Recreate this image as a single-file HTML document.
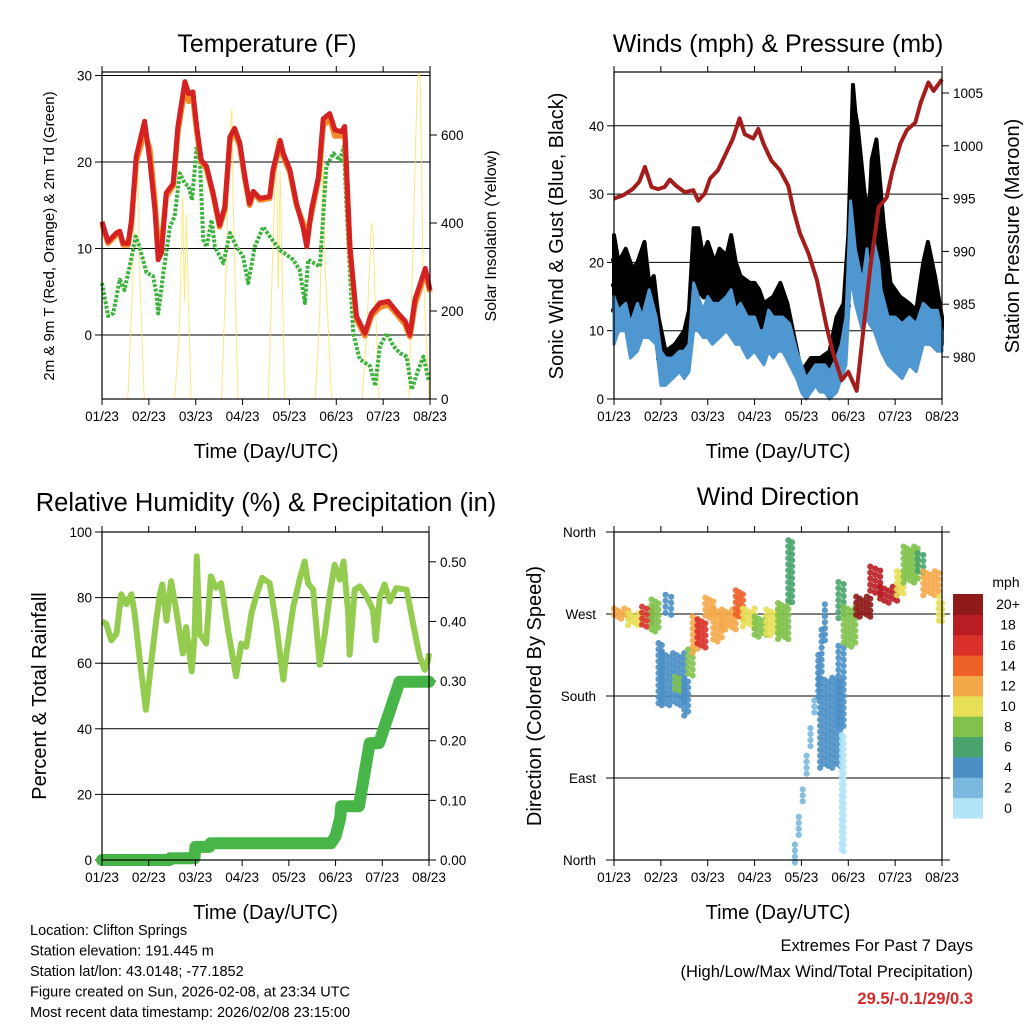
<!DOCTYPE html>
<html><head><meta charset="utf-8"><style>
body{margin:0;background:#fff;}
svg{display:block;font-family:"Liberation Sans",sans-serif;}
</style></head><body>
<svg id="c" width="1024" height="1024" viewBox="0 0 1024 1024" xmlns="http://www.w3.org/2000/svg"></svg>
<script>
// ---------- DATA ----------
const xTickLabels=["01/23","02/23","03/23","04/23","05/23","06/23","07/23","08/23"];
// Temperature panel
const tTimes=[0,.13,.31,.38,.45,.56,.63,.73,.91,1.02,1.13,1.2,1.27,1.37,1.52,1.62,1.77,1.85,1.94,2.02,2.12,2.23,2.37,2.51,2.62,2.73,2.83,2.94,3.05,3.15,3.23,3.37,3.58,3.65,3.8,3.87,4.01,4.15,4.29,4.37,4.47,4.62,4.72,4.86,4.97,5.11,5.18,5.29,5.43,5.61,5.75,5.93,6.11,6.32,6.47,6.57,6.68,6.9,7];
const temp2m=[13.1,10.8,11.8,12,10.6,10.6,13.3,20.6,24.7,20.2,14.5,8.7,9.5,16.4,17.5,24.1,29.3,27.9,28.1,24.1,20.2,19.5,16.4,12.7,14.8,22.9,23.9,22.2,18.3,15.2,16.6,15.8,16,19.1,22.5,21,19.1,15.2,12.5,10.2,14.5,18.3,25,25.6,23.7,23.5,24.1,10.2,2.2,0.2,2.5,3.7,3.9,2.5,1.6,0,4.1,7.7,5.2];
const temp9m=[12.8,10.6,11.6,11.8,10.4,10.4,13,20,23.5,21.5,15.5,10,10.5,16,17.2,23.5,28.5,27,27.5,23.5,20,19.2,16.2,12.5,14.5,22.4,23.5,21.8,18,15,16.4,15.6,15.8,18.8,22,20.6,18.8,15,13,11.5,14,18,24.2,25,23,23,23.5,10,1.8,-0.1,2.2,3.2,3.5,2.2,1.2,-0.2,3.5,7.2,5];
const dewTimes=[0,.13,.24,.38,.48,.59,.72,.8,.95,1.09,1.16,1.2,1.3,1.45,1.55,1.66,1.77,1.85,1.92,2.02,2.09,2.16,2.23,2.34,2.41,2.59,2.73,2.87,3.01,3.12,3.26,3.44,3.58,3.8,4.08,4.22,4.33,4.4,4.65,4.79,4.94,5.08,5.16,5.22,5.36,5.5,5.72,5.83,5.93,6.08,6.22,6.36,6.5,6.61,6.75,6.86,6.97];
const dew2m=[6,2.2,2.5,6.4,5.2,7.9,11.4,10.2,7.2,6.8,4.8,2.5,6.8,12.5,13.7,18.7,17.5,17.2,15.6,21.8,20.2,11,10.2,13.3,10.2,8.3,11.8,10.2,9.1,6,10.2,12.5,11.4,9.8,8.7,7.5,3.7,8.7,7.9,19.5,21,20.2,21.8,14.5,0.2,-2.8,-3.6,-5.9,-1.3,0.2,-1.3,-2.1,-2.5,-6.3,-4,-2.5,-5.2];
const solarTimes=[0.55,.65,.72,.76,.8,.9, 1.55,1.65,1.72,1.76,1.8,1.9, 2.55,2.65,2.72,2.77,2.8,2.9, 3.55,3.65,3.72,3.76,3.8,3.9, 4.55,4.65,4.72,4.76,4.82,4.9, 5.55,5.65,5.75,5.79,5.82,5.92, 6.55,6.65,6.72,6.75,6.79,6.85,6.98];
const solarVals=[0,250,530,560,300,0, 0,150,460,220,420,0, 0,300,580,660,450,0, 0,350,600,250,520,0, 0,200,560,300,180,0, 0,150,400,370,250,0, 0,400,690,745,730,300,0];
// Winds panel
const presTimes=[0,.19,.4,.54,.66,.8,.94,1.08,1.19,1.33,1.51,1.69,1.8,1.94,2.05,2.22,2.37,2.54,2.68,2.79,2.97,3.08,3.19,3.36,3.54,3.72,3.83,3.97,4.15,4.33,4.54,4.68,4.86,5,5.18,5.29,5.47,5.65,5.82,5.93,6.11,6.25,6.43,6.54,6.71,6.82,7];
const presVals=[995,995.3,995.9,996.6,998,996.1,995.9,996.1,996.8,996.2,995.6,995.8,994.8,995.5,996.9,997.7,999.1,1000.7,1002.6,1001.1,1000.7,1001.6,1000.2,998.6,997.7,996.2,993.9,991.7,989.8,987.3,982.8,980.3,977.8,978.6,976.8,981.3,988.5,994.2,995.1,997.4,1000.2,1001.5,1002.2,1004,1006,1005.2,1006.3];
const windTimes=[0,.1,.25,.35,.5,.6,.75,.9,1.0,1.1,1.25,1.4,1.5,1.6,1.7,1.8,1.9,2.0,2.1,2.25,2.4,2.5,2.6,2.7,2.85,3.0,3.1,3.2,3.3,3.4,3.5,3.6,3.75,3.9,4.0,4.1,4.2,4.3,4.4,4.5,4.6,4.75,4.85,4.95,5.05,5.15,5.3,5.4,5.45,5.55,5.65,5.7,5.85,6.0,6.15,6.3,6.45,6.6,6.75,6.9,7.0];
const windLo=[8,10,10,6,7,9,9,8,2,2,3,4,3,4,10,10,9,9,8,9,10,9,8,8,6,7,6,5,7,6,7,7,5,3,1,0,1,2,1,1,0,1,3,5,18,14,10,12,11,10,8,7,5,4,3,5,4,8,8,7,7];
const windHi=[15,13,14,11,14,12,16,12,7,6,6,7,7,8,17,15,13,15,14,14,15,16,13,14,12,12,10,10,13,12,12,12,11,7,5,3,4,5,5,5,4,6,8,12,29,22,17,22,18,23,20,16,12,12,11,12,11,14,13,13,10];
const gustTimes=[0,.1,.25,.4,.5,.65,.75,.85,.95,1.1,1.3,1.5,1.6,1.7,1.8,1.9,2.0,2.15,2.25,2.4,2.5,2.6,2.7,2.9,3.0,3.1,3.2,3.4,3.55,3.7,3.85,4.0,4.2,4.4,4.6,4.75,4.9,5.0,5.1,5.15,5.2,5.35,5.45,5.5,5.6,5.75,5.9,6.1,6.3,6.45,6.6,6.7,6.85,7.0];
const gustLo=[13,14,13,12,11,14,13,11,6,4,5,5,8,15,16,15,15,14,14,15,15,13,12,10,10,11,9,10,9,8,5,3,3,4,3,5,8,14,25,28,22,16,18,16,17,12,9,8,9,9,11,12,10,8];
const gustHi=[24,20,22,19,20,23,17,18,12,7,8,10,13,25,25,21,23,20,22,21,24,20,18,17,17,16,14,15,17,14,9,4,6,6,7,12,14,24,46,42,40,30,28,35,38,26,17,15,14,13,20,23,18,12];
// Humidity / precip panel
const rhTimes=[0,.09,.2,.31,.41,.52,.63,.7,.81,.94,1.06,1.16,1.24,1.29,1.38,1.48,1.59,1.73,1.8,1.92,1.98,2.03,2.09,2.23,2.33,2.44,2.55,2.7,2.87,2.98,3.09,3.2,3.3,3.43,3.59,3.73,3.88,3.95,4.09,4.23,4.34,4.41,4.52,4.66,4.77,4.88,4.98,5.09,5.17,5.27,5.3,5.41,5.52,5.66,5.8,5.86,5.95,6.05,6.16,6.3,6.52,6.66,6.8,6.91,6.98,7];
const rhVals=[72.7,72,67,69,81,78,81,75,61,45.8,61,73,81,84,73,85,76,63,71,57.5,68,92.6,69,66,86.5,83,84.4,70,56,66,65,75.3,80.4,86,84.4,72,55,63,77,85.5,91,84.4,82.4,59.5,69,81.4,90,85.5,91,75.3,62.6,82.4,83.4,80.4,76.3,67,80.4,84,78.8,82.9,82.4,72,62,58,61,63];
const precipTimes=[0,1.45,1.46,1.98,2.0,2.3,2.32,4.9,5.0,5.1,5.12,5.5,5.73,5.93,6.37,7];
const precipVals=[0,0,0.003,0.003,0.022,0.022,0.028,0.028,0.04,0.07,0.09,0.09,0.196,0.196,0.299,0.299];
// Wind direction clusters
const wdDayStart=[0,.3,.6,.8,.95,1.1,1.02,1.3,1.5,1.58,1.68,1.78,1.95,2.12,2.3,2.6,2.75,3.0,3.25,3.5,3.72,3.86,4.36,4.4,4.79,4.79,4.86,4.9,5.17,5.47,5.68,6.04,6.18,6.48,6.6,6.93];
const wdDayEnd=[.3,.6,.8,.95,1.02,1.22,1.5,1.4,1.58,1.68,1.78,1.95,2.12,2.3,2.6,2.75,3.0,3.25,3.5,3.72,3.8,4.36,4.5,4.83,4.9,4.9,4.9,5.15,5.47,5.68,6.04,6.18,6.48,6.6,6.93,7.0];
const wdDirStart=[270,264,266,268,203,278,198,192,178,216,247,248,276,257,264,280,266,255,260,262,315,5,200,150,285,190,72,255,278,306,291,303,324,324,303,275];
const wdDirEnd=[270,264,266,268,203,278,198,192,178,216,247,248,276,257,264,280,266,255,260,262,315,200,260,150,285,190,72,255,278,306,291,303,324,324,303,270];
const wdSpread=[6,7,12,18,35,13,29,9,20,15,20,16,12,18,11,16,10,12,15,20,36,12,25,50,20,45,65,23,11,16,9,14,20,13,14,14];
const wdSpeed=[12,10,15,7,3,4,4,7,4,7,12,16,12,11,12,13,10,8,9,7,5,2,4,4,5,4,0.5,7,20,17,18,10,7,6,11,9];
const cbLabels=["0","2","4","6","8","10","12","14","16","18","20+"];
const cbColors=["#b3e3f7","#7ab8e0","#4a8fc6","#48a46c","#80c24c","#e7df58","#f5a84a","#ee6128","#d9312a","#b91d24","#8e1a1a"];

// ---------- HELPERS ----------
const NS="http://www.w3.org/2000/svg";
const S=document.getElementById("c");
function el(tag,a,p){const e=document.createElementNS(NS,tag);for(const k in a)e.setAttribute(k,a[k]);(p||S).appendChild(e);return e;}
function txt(x,y,s,size,anchor,extra){const e=el("text",Object.assign({x:x,y:y,"font-size":size,"text-anchor":anchor||"middle",fill:"#000"},extra||{}));e.textContent=s;return e;}
function xScale(x0,x1){return d=>x0+d/7*(x1-x0);}
function path(xs,ys,fx,fy){let s="";for(let i=0;i<Math.min(xs.length,ys.length);i++){s+=(i?"L":"M")+fx(xs[i]).toFixed(1)+","+fy(ys[i]).toFixed(1);}return s;}
function lerp(ts,vs,t){for(let i=1;i<ts.length;i++){if(t<=ts[i]){const f=(t-ts[i-1])/(ts[i]-ts[i-1]||1);return vs[i-1]+f*(vs[i]-vs[i-1]);}}return vs[vs.length-1];}
function xAxis(x0,x1,yb,yt,name){
  const fx=xScale(x0,x1);
  for(let i=0;i<xTickLabels.length;i++){
    const x=fx(i);
    el("line",{x1:x,x2:x,y1:yb,y2:yb+6,stroke:"#000","stroke-width":1});
    el("line",{x1:x,x2:x,y1:yt,y2:yt-6,stroke:"#000","stroke-width":1});
    const t=txt(x,yb+22,xTickLabels[i],13.5);
    
    
  }
  const a=txt((x0+x1)/2,yb+59,"Time (Day/UTC)",20);
  
  
}
function yTick(x,y,label,side,name){
  const d=side==="l"?-7:7;
  el("line",{x1:x,x2:x+d,y1:y,y2:y,stroke:"#000","stroke-width":1});
  const t=txt(x+(side==="l"?-10:11),y+5,label,13.5,side==="l"?"end":"start");
  
  
}
function grid(x0,x1,y){el("line",{x1:x0,x2:x1,y1:y,y2:y,stroke:"#000","stroke-width":1});}
function frame(x0,x1,yt,yb,name){const r=el("rect",{x:x0,y:yt,width:x1-x0,height:yb-yt,fill:"none",stroke:"#000","stroke-width":1.2});
  
  }
function vtitle(x,y,s,size,name){const t=txt(x,y,s,size,"middle",{transform:`rotate(-90 ${x} ${y})`});
  
  }

// ---------- PANEL 1: TEMPERATURE ----------
(function(){
  const x0=102,x1=430,yt=72,yb=399;
  const fx=xScale(x0,x1), fy=v=>335-v*8.65, sy=v=>399-v*0.44;
  const ti=txt(267,52,"Temperature (F)",25);
  
  
  [0,10,20,30].forEach(v=>{grid(x0,x1,fy(v));yTick(x0,fy(v),String(v),"l","temp-y-tick-label");});
  [0,200,400,600].forEach(v=>yTick(x1,sy(v),String(v),"r","solar-y-tick-label"));
  const sol=el("path",{d:path(solarTimes,solarVals,fx,sy),fill:"none",stroke:"#ffe060","stroke-width":1,opacity:0.8});
  
  
  const dw=el("path",{d:path(dewTimes,dew2m,fx,fy),fill:"none",stroke:"#3db33d","stroke-width":4,"stroke-dasharray":"3 1.6","stroke-linejoin":"round"});
  
  
  const o=el("path",{d:path(tTimes,temp9m,fx,fy),fill:"none",stroke:"#f58a2a","stroke-width":5.5,"stroke-linejoin":"round"});
  
  
  const r=el("path",{d:path(tTimes,temp2m,fx,fy),fill:"none",stroke:"#d42121","stroke-width":5,"stroke-linejoin":"round"});
  
  
  frame(x0,x1,yt,yb,'temperature-plot-frame');
  xAxis(x0,x1,yb,yt,'temperature');
  vtitle(54,236,"2m & 9m T (Red, Orange) & 2m Td (Green)",15,'temperature-y-axis-title');
  vtitle(496,236,"Solar Insolation (Yellow)",16,'solar-y-axis-title');
})();

// ---------- PANEL 2: WINDS ----------
(function(){
  const x0=614,x1=942,yt=72,yb=399;
  const fx=xScale(x0,x1), fy=v=>399-v*6.83, py=p=>357-(p-980)*10.56;
  const ti=txt(778,52,"Winds (mph) & Pressure (mb)",25);
  
  
  [0,10,20,30,40].forEach(v=>{grid(x0,x1,fy(v));yTick(x0,fy(v),String(v),"l","wind-y-tick-label");});
  [980,985,990,995,1000,1005].forEach(v=>yTick(x1,py(v),String(v),"r","pressure-y-tick-label"));
  let up="",lo="";
  for(let i=0;i<gustTimes.length;i++){up+=(i?"L":"M")+fx(gustTimes[i])+","+fy(gustHi[i]);}
  for(let i=gustTimes.length-1;i>=0;i--){lo+="L"+fx(gustTimes[i])+","+fy(gustLo[i]);}
  const gb=el("path",{d:up+lo+"Z",fill:"#000",stroke:"#000","stroke-width":4,"stroke-linejoin":"round"});
  
  
  for(let px=x0;px<=x1;px+=3){
    const t=(px-x0)/(x1-x0)*7;
    const h=lerp(gustTimes,gustHi,t), l=lerp(gustTimes,gustLo,t);
    for(let v=l;v<=h;v+=(h-l)/3+0.01){
      const c=el("circle",{cx:px,cy:fy(v),r:3,fill:"#000"});
      
      
    }
  }
  let bu="",bl="";
  for(let i=0;i<windTimes.length;i++){bu+=(i?"L":"M")+fx(windTimes[i])+","+fy(windHi[i]);}
  for(let i=windTimes.length-1;i>=0;i--){bl+="L"+fx(windTimes[i])+","+fy(windLo[i]);}
  const wb=el("path",{d:bu+bl+"Z",fill:"#4f97d1",stroke:"#4f97d1","stroke-width":3,"stroke-linejoin":"round"});
  
  
  const pl=el("path",{d:path(presTimes,presVals,fx,py),fill:"none",stroke:"#a51c1c","stroke-width":4,"stroke-linejoin":"round"});
  
  
  frame(x0,x1,yt,yb,'winds-plot-frame');
  xAxis(x0,x1,yb,yt,'winds');
  vtitle(563,236,"Sonic Wind & Gust (Blue, Black)",20,'wind-y-axis-title');
  vtitle(1019,236,"Station Pressure (Maroon)",20,'pressure-y-axis-title');
})();

// ---------- PANEL 3: RH & PRECIP ----------
(function(){
  const x0=102,x1=429,yt=532,yb=860;
  const fx=xScale(x0,x1), fy=v=>860-v*3.28, qy=v=>860-v/0.55*328;
  const ti=txt(266,511,"Relative Humidity (%) & Precipitation (in)",25.5);
  
  
  [0,20,40,60,80,100].forEach(v=>{if(v<100)grid(x0,x1,fy(v));yTick(x0,fy(v),String(v),"l","rh-y-tick-label");});
  ["0.00","0.10","0.20","0.30","0.40","0.50"].forEach(s=>yTick(x1,qy(parseFloat(s)),s,"r","precip-y-tick-label"));
  const rh=el("path",{d:path(rhTimes,rhVals,fx,fy),fill:"none",stroke:"#93cc4e","stroke-width":6,"stroke-linejoin":"round"});
  
  
  const pr=el("path",{d:path(precipTimes,precipVals,fx,qy),fill:"none",stroke:"#48b548","stroke-width":12,"stroke-linejoin":"round","stroke-linecap":"round"});
  
  
  frame(x0,x1,yt,yb,'humidity-plot-frame');
  xAxis(x0,x1,yb,yt,'humidity');
  vtitle(46,696,"Percent & Total Rainfall",20,'rh-y-axis-title');
})();

// ---------- PANEL 4: WIND DIRECTION ----------
(function(){
  const x0=614,x1=942,yt=532,yb=860;
  const fx=xScale(x0,x1), fy=d=>860-d*328/360;
  const ti=txt(778,505,"Wind Direction",25);
  
  
  const dl=["North","East","South","West","North"];
  [0,90,180,270,360].forEach((v,i)=>{grid(x0-8,x1+8,fy(v));
    const t=txt(x0-18,fy(v)+5,dl[i],13.5,"end");
    
    });
  for(let c=0;c<wdDayStart.length;c++){
    const col=cbColors[Math.min(10,Math.floor(wdSpeed[c]/2+0.5))];
    const px0=fx(wdDayStart[c]), px1=fx(wdDayEnd[c]);
    const n=Math.max(1,Math.round((px1-px0)/4));
    for(let k=0;k<=n;k++){
      const f=k/n;
      const d=wdDirStart[c]+f*(wdDirEnd[c]-wdDirStart[c]);
      const y0=fy(d+wdSpread[c]), y1=fy(d-wdSpread[c]);
      for(let y=y0+((k%3)*2);y<=y1;y+=6){
        const p=el("circle",{cx:px0+f*(px1-px0),cy:y,r:3.1,fill:col,opacity:0.9});
        
        
      }
    }
  }
  frame(x0,x1,yt,yb,'wind-direction-plot-frame');
  xAxis(x0,x1,yb,yt,'wind-direction');
  vtitle(541,696,"Direction (Colored By Speed)",20,'direction-y-axis-title');
  const u=txt(1006,587,"mph",14);
  
  
  const h=224/11;
  for(let i=0;i<cbColors.length;i++){
    const y=818-(i+1)*h;
    const r=el("rect",{x:953,y:y,width:30,height:h+0.5,fill:cbColors[i]});
    
    
    const t=txt(1008,y+h/2+5,cbLabels[i],14);
    
    
  }
})();

// ---------- FOOTER ----------
const infoLines=["Location: Clifton Springs","Station elevation: 191.445 m","Station lat/lon: 43.0148; -77.1852","Figure created on Sun, 2026-02-08, at 23:34 UTC","Most recent data timestamp: 2026/02/08 23:15:00"];
infoLines.forEach((s,i)=>{const t=txt(30,935+i*20.5,s,14.5,"start");
  
  });
const e1=txt(973,951,"Extremes For Past 7 Days",16.5,"end");


const e2=txt(973,977,"(High/Low/Max Wind/Total Precipitation)",16.5,"end");


const e3=txt(973,1004,"29.5/-0.1/29/0.3",16.5,"end",{fill:"#d42a2a","font-weight":"bold"});


</script>
</body></html>
